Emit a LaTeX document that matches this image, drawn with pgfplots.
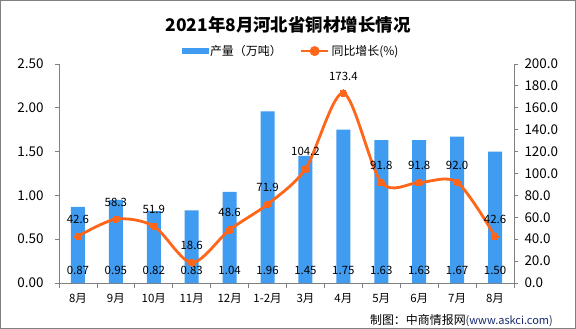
\documentclass[border=0pt]{standalone}
\usepackage{pgfplots}
\usepackage{pgfplotstable}
\pgfplotsset{compat=1.18}
\usepackage{fontspec}
\setmainfont{Noto Sans CJK SC}
\definecolor{barblue}{RGB}{64,156,240}
\definecolor{lineorange}{RGB}{255,102,26}
\definecolor{axgray}{RGB}{128,128,128}
\definecolor{footblue}{RGB}{20,40,110}

\pgfplotstableread{
x prod growth ly
0 0.87 42.6 0.14
1 0.95 58.3 0.14
2 0.82 51.9 0.14
3 0.83 18.6 0.14
4 1.04 48.6 0.14
5 1.96 71.9 0.14
6 1.45 104.2 0.14
7 1.75 173.4 0.14
8 1.63 91.8 0.14
9 1.63 91.8 0.14
10 1.67 92.0 0.14
11 1.50 42.6 0.14
}\data

\begin{document}
\begin{tikzpicture}
\draw[axgray, line width=1bp, fill=white] (0.5bp,0.5bp) rectangle (575.5bp,328.5bp);
\node[font=\fontsize{17.5}{20}\selectfont\bfseries] at (288bp,304bp) {2021年8月河北省铜材增长情况};
\node[anchor=east, inner sep=0pt] at (553bp,8bp) {\fontsize{12}{14}\selectfont 制图：中商情报网\textcolor{footblue}{\fontsize{11}{13}\selectfont (www.askci.com)}};

\begin{axis}[
  at={(59bp,46bp)}, anchor=south west,
  width=455bp, height=219bp, scale only axis,
  xmin=-0.5, xmax=11.5, ymin=0, ymax=2.5,
  axis x line*=bottom, axis y line*=left,
  axis line style={axgray, line width=0.8bp},
  every tick/.style={axgray, line width=0.8bp},
  tick align=outside,
  xtick={0,...,11},
  xticklabels={8月,9月,10月,11月,12月,1-2月,3月,4月,5月,6月,7月,8月},
  major x tick style={draw=none},
  minor xtick={-0.5,0.5,...,11.5},
  minor tick length=5bp,
  major tick length=4bp,
  ytick={0,0.5,...,2.5},
  yticklabel={\pgfmathprintnumber[fixed,fixed zerofill,precision=2]{\tick}},
  /pgf/number format/assume math mode=true,
  xticklabel style={font=\fontsize{11.5}{13}\selectfont, yshift=-3bp},
  yticklabel style={font=\fontsize{13.5}{15}\selectfont, xshift=-8bp},
  clip=false,
]
\addplot[ybar, bar width=14bp, fill=barblue, draw=none] table[x=x, y=prod] {\data};
\addplot[draw=none, mark=none, nodes near coords={\pgfmathprintnumber[fixed,fixed zerofill,precision=2]{\pgfplotspointmeta}},
  point meta={\thisrow{prod}},
  every node near coord/.style={anchor=center, font=\fontsize{11.5}{13}\selectfont, text=black}]
  table[x=x, y=ly] {\data};
\end{axis}

\begin{axis}[
  at={(59bp,46bp)}, anchor=south west,
  width=455bp, height=219bp, scale only axis,
  xmin=-0.5, xmax=11.5, ymin=0, ymax=200,
  axis x line=none, axis y line*=right,
  axis line style={axgray, line width=0.8bp},
  every tick/.style={axgray, line width=0.8bp},
  tick align=outside, major tick length=4bp,
  ytick={0,20,...,200},
  yticklabel={\pgfmathprintnumber[fixed,fixed zerofill,precision=1]{\tick}},
  /pgf/number format/assume math mode=true,
  yticklabel style={font=\fontsize{13.5}{15}\selectfont, xshift=3bp},
  clip=false,
  legend columns=2,
  legend style={at={(0.51,1.059)}, anchor=center, draw=none, fill=none,
    font=\fontsize{12}{14}\selectfont,
    /tikz/every even column/.append style={column sep=16bp},
    inner sep=0pt},
]
\addlegendimage{legend image code/.code={\fill[barblue] (0bp,-2.5bp) rectangle (26bp,2.5bp);}}
\addlegendentry{产量（万吨）}
\addplot[lineorange, line width=2.8bp, smooth, mark=*, mark size=3.5bp,
  mark options={fill=lineorange, draw=lineorange, line width=0pt},
  legend image code/.code={\draw[lineorange, line width=2.8bp] (0bp,0bp) -- (27bp,0bp); \fill[lineorange] (13.5bp,0bp) circle (3.5bp);},
  nodes near coords={\pgfmathprintnumber[fixed,fixed zerofill,precision=1]{\pgfplotspointmeta}},
  point meta={\thisrow{growth}},
  every node near coord/.style={anchor=center, yshift=17bp, font=\fontsize{11.5}{13}\selectfont, text=black}]
  table[x=x, y=growth] {\data};
\addlegendentry{同比增长(\%)}
\end{axis}
\end{tikzpicture}
\end{document}
